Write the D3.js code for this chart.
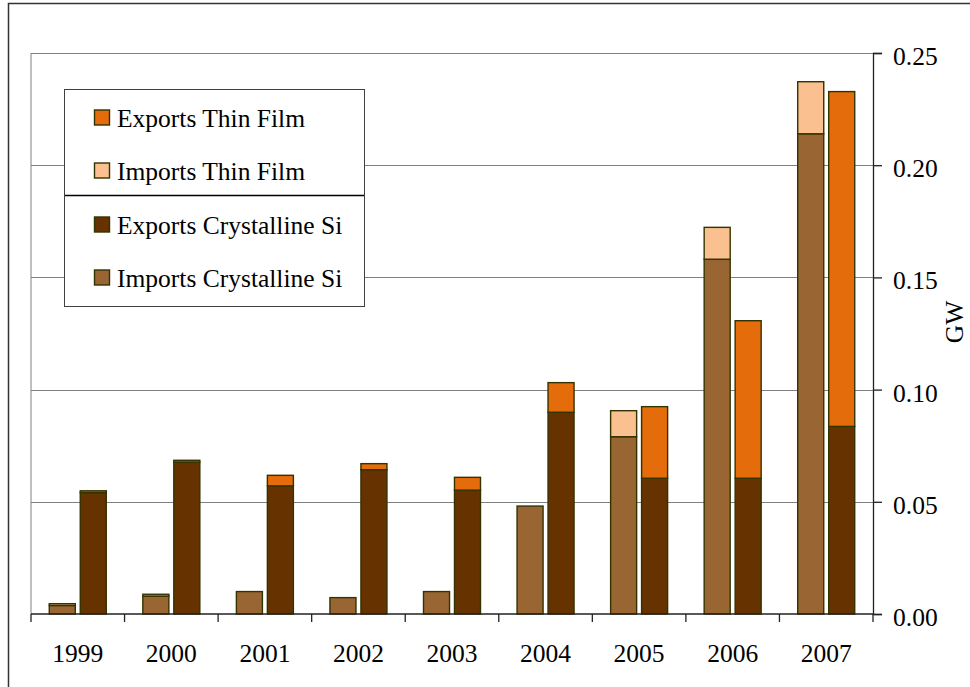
<!DOCTYPE html>
<html>
<head>
<meta charset="utf-8">
<script src="https://cdn.jsdelivr.net/npm/d3@7"></script>
<style>
  html, body { margin: 0; padding: 0; background: #fff; }
  svg { display: block; }
  text { font-family: "Liberation Serif", "Times New Roman", serif; fill: #000; }
</style>
</head>
<body>
<svg id="chart" width="970" height="687"></svg>
<script>
const years = ["1999", "2000", "2001", "2002", "2003", "2004", "2005", "2006", "2007"];
const importsCrystallineSi = [0.0038, 0.0080, 0.0100, 0.0073, 0.0100, 0.0481, 0.0790, 0.1581, 0.2140];
const importsThinFilm      = [0.0008, 0.0008, 0.0000, 0.0000, 0.0000, 0.0000, 0.0116, 0.0142, 0.0232];
const exportsCrystallineSi = [0.0541, 0.0677, 0.0571, 0.0643, 0.0552, 0.0899, 0.0605, 0.0605, 0.0836];
const exportsThinFilm      = [0.0008, 0.0008, 0.0047, 0.0027, 0.0057, 0.0132, 0.0319, 0.0702, 0.1492];
const yTicks = [0, 0.05, 0.10, 0.15, 0.20, 0.25];
const legendLabels = ["Exports Thin Film", "Imports Thin Film", "Exports Crystalline Si", "Imports Crystalline Si"];

const colors = {
  impCry: "#996633",
  impThin: "#FAC090",
  expCry: "#663300",
  expThin: "#E46C0A"
};
const barStroke = "#333300";
const fontSize = 25.5;

const svg = d3.select("#chart");
const pLeft = 31, pRight = 873, pTop = 53, pBottom = 614;

// outer frame
svg.append("rect").attr("x", 8.5).attr("y", 3.5).attr("width", 990).attr("height", 720)
  .attr("fill", "none").attr("stroke", "#333").attr("stroke-width", 1.5);

const x0 = d3.scaleBand().domain(years).range([pLeft, pRight]).padding(0);
const x1 = d3.scaleBand().domain(["imp", "exp"]).range([0, x0.bandwidth()])
  .paddingInner(0.16).paddingOuter(0.59);
const y = d3.scaleLinear().domain([0, 0.25]).range([pBottom, pTop]);

// plot border (left) and gridlines
svg.append("line").attr("x1", pLeft).attr("x2", pLeft).attr("y1", pTop).attr("y2", pBottom)
  .attr("stroke", "#808080").attr("stroke-width", 1);
svg.append("g").selectAll("line").data(yTicks.filter(d => d > 0)).join("line")
  .attr("x1", pLeft).attr("x2", pRight)
  .attr("y1", d => Math.round(y(d)) + 0.5).attr("y2", d => Math.round(y(d)) + 0.5)
  .attr("stroke", "#808080").attr("stroke-width", 1);

// bars
const rows = years.map((yr, i) => ({
  year: yr,
  impCry: importsCrystallineSi[i], impThin: importsThinFilm[i],
  expCry: exportsCrystallineSi[i], expThin: exportsThinFilm[i]
}));
const impStack = d3.stack().keys(["impCry", "impThin"])(rows);
const expStack = d3.stack().keys(["expCry", "expThin"])(rows);

function drawStack(stack, grp) {
  stack.forEach(layer => {
    svg.append("g").selectAll("rect").data(layer.filter(d => d[1] - d[0] > 0)).join("rect")
      .attr("x", d => x0(d.data.year) + x1(grp))
      .attr("width", x1.bandwidth())
      .attr("y", d => y(d[1]))
      .attr("height", d => y(d[0]) - y(d[1]))
      .attr("fill", colors[layer.key])
      .attr("stroke", barStroke)
      .attr("stroke-width", 1.4);
  });
}
drawStack(impStack, "imp");
drawStack(expStack, "exp");

// x axis
const xAxis = d3.axisBottom(x0).tickSize(0).tickPadding(0);
const xg = svg.append("g").attr("transform", `translate(0,${pBottom})`).call(xAxis);
xg.select(".domain").remove();
xg.selectAll("text").attr("font-size", fontSize).attr("font-family", "Liberation Serif")
  .attr("y", 48).attr("dy", 0);
svg.append("line").attr("x1", pLeft).attr("x2", pRight).attr("y1", pBottom).attr("y2", pBottom)
  .attr("stroke", "#222").attr("stroke-width", 1.3);
svg.append("g").selectAll("line").data(years.concat(["end"])).join("line")
  .attr("x1", (d, i) => i < years.length ? x0(d) : pRight)
  .attr("x2", (d, i) => i < years.length ? x0(d) : pRight)
  .attr("y1", pBottom).attr("y2", pBottom + 8)
  .attr("stroke", "#222").attr("stroke-width", 1.3);

// right y axis
const yAxis = d3.axisRight(y).tickValues(yTicks).tickFormat(d3.format(".2f")).tickSize(9).tickPadding(11);
const yg = svg.append("g").attr("transform", `translate(${pRight},0)`).call(yAxis);
yg.select(".domain").attr("stroke", "#222").attr("stroke-width", 1.3);
yg.selectAll(".tick line").attr("stroke", "#222").attr("stroke-width", 1.3);
yg.selectAll("text").attr("font-size", fontSize).attr("font-family", "Liberation Serif").attr("dy", "0.45em");

svg.append("text").attr("transform", "translate(963,322) rotate(-90)")
  .attr("text-anchor", "middle").attr("font-size", fontSize).text("GW");

// legend
const lg = svg.append("g");
lg.append("rect").attr("x", 64.5).attr("y", 89.5).attr("width", 300).attr("height", 217)
  .attr("fill", "#fff").attr("stroke", "#404040").attr("stroke-width", 1);
lg.append("line").attr("x1", 65).attr("x2", 364).attr("y1", 195.5).attr("y2", 195.5)
  .attr("stroke", "#000").attr("stroke-width", 1.5);
const legendColors = [colors.expThin, colors.impThin, colors.expCry, colors.impCry];
const rowY = [117.5, 170.5, 224.5, 277.5];
legendLabels.forEach((lab, i) => {
  lg.append("rect").attr("x", 94.5).attr("y", rowY[i] - 7.5).attr("width", 15).attr("height", 15)
    .attr("fill", legendColors[i]).attr("stroke", barStroke).attr("stroke-width", 1.4);
  lg.append("text").attr("x", 117).attr("y", rowY[i] + 9).attr("font-size", fontSize).text(lab);
});
</script>
</body>
</html>
